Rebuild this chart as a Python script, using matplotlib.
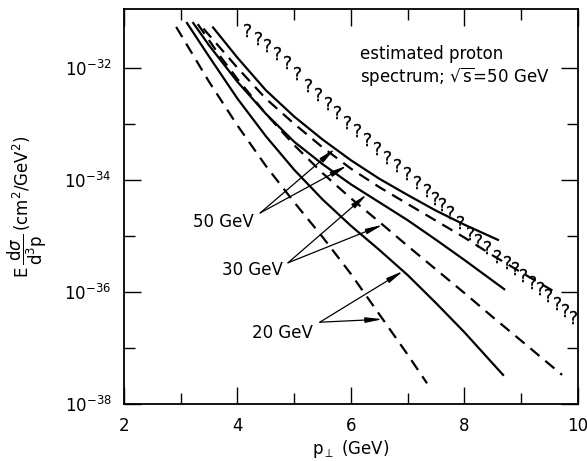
import numpy as np
import matplotlib.pyplot as plt
from matplotlib.ticker import FixedLocator, NullFormatter

plt.rcParams['font.family'] = ['DejaVu Sans']
plt.rcParams['mathtext.fontset'] = 'dejavusans'
plt.rcParams['lines.scale_dashes'] = False

# p_perp (GeV) and log10 of E d3sigma/dp3 (cm^2/GeV^2)
x_20_dash = [2.92, 3.5, 4.0, 4.5, 5.0, 5.5, 6.0, 6.5, 7.0, 7.34]
y_20_dash = [-31.27, -32.25, -33.03, -33.75, -34.4, -35.02, -35.68, -36.4, -37.12, -37.63]
x_20_solid = [3.11, 3.5, 4.0, 4.5, 5.0, 5.5, 6.0, 6.5, 7.0, 7.5, 8.0, 8.68]
y_20_solid = [-31.2, -31.8, -32.55, -33.22, -33.82, -34.35, -34.82, -35.25, -35.7, -36.2, -36.72, -37.48]
x_30_dash = [3.30, 3.7, 4.0, 4.5, 5.0, 5.5, 6.0, 6.5, 7.0, 7.5, 8.0, 8.5, 9.0, 9.72]
y_30_dash = [-31.22, -31.8, -32.2, -32.82, -33.38, -33.88, -34.33, -34.75, -35.18, -35.6, -36.02, -36.45, -36.87, -37.48]
x_30_solid = [3.22, 3.5, 4.0, 4.5, 5.0, 5.5, 6.0, 6.5, 7.0, 7.5, 8.0, 8.70]
y_30_solid = [-31.2, -31.6, -32.25, -32.82, -33.32, -33.72, -34.08, -34.4, -34.72, -35.07, -35.43, -35.95]
x_50_dash = [3.40, 4.0, 4.5, 5.0, 5.5, 6.0, 6.5, 7.0, 7.5, 8.0, 8.5, 9.0, 9.56]
y_50_dash = [-31.3, -32.0, -32.55, -33.0, -33.42, -33.8, -34.13, -34.43, -34.73, -35.03, -35.35, -35.65, -35.98]
x_50_solid = [3.57, 4.0, 4.5, 5.0, 5.5, 6.0, 6.5, 7.0, 7.5, 8.0, 8.59]
y_50_solid = [-31.28, -31.82, -32.4, -32.87, -33.28, -33.65, -33.98, -34.27, -34.55, -34.8, -35.07]

# estimated proton spectrum (the "?" marks)
q_x = [4.17, 4.36, 4.52, 4.70, 4.87, 5.05, 5.24, 5.42, 5.59, 5.75, 5.93, 6.11,
       6.28, 6.46, 6.63, 6.81, 6.99, 7.16, 7.34, 7.48, 7.60, 7.74, 7.92, 8.10,
       8.24, 8.40, 8.57, 8.75, 8.89, 9.03, 9.19, 9.33, 9.47, 9.63, 9.77, 9.91]
q_y = [-31.32, -31.46, -31.59, -31.73, -31.89, -32.1, -32.3, -32.47, -32.63, -32.79, -32.96, -33.11,
       -33.27, -33.43, -33.59, -33.73, -33.88, -34.04, -34.18, -34.32, -34.43, -34.58, -34.76, -34.94,
       -35.07, -35.20, -35.36, -35.47, -35.58, -35.70, -35.82, -35.93, -36.05, -36.19, -36.32, -36.45]

fig = plt.figure(figsize=(5.87, 4.61), dpi=100)
ax = fig.add_axes([0.2112, 0.1236, 0.7734, 0.8569])

dash = (8.5, 5.5)
ax.plot(x_20_dash, 10 ** np.array(y_20_dash), color='k', lw=1.6, dashes=dash)
ax.plot(x_20_solid, 10 ** np.array(y_20_solid), color='k', lw=1.6)
ax.plot(x_30_dash, 10 ** np.array(y_30_dash), color='k', lw=1.6, dashes=dash)
ax.plot(x_30_solid, 10 ** np.array(y_30_solid), color='k', lw=1.6)
ax.plot(x_50_dash, 10 ** np.array(y_50_dash), color='k', lw=1.6, dashes=dash)
ax.plot(x_50_solid, 10 ** np.array(y_50_solid), color='k', lw=1.6)
ax.plot(q_x, 10 ** np.array(q_y), ls='none', marker=r'$\mathrm{?}$', ms=9.5, mew=0.15, color='k')

ax.set_yscale('log')
ax.set_xlim(2, 10)
ax.set_ylim(1e-38, 10 ** -30.95)

# arrows from each energy label to its two curves
def arrow(start, x_tip, xs, ys):
    tip = (x_tip, 10 ** np.interp(x_tip, xs, ys))
    ax.annotate('', xy=tip, xytext=start,
                arrowprops=dict(arrowstyle='-|>,head_length=1.0,head_width=0.16',
                                color='k', lw=0.9, shrinkA=0, shrinkB=0))

ax.text(3.22, 10 ** -34.75, '50 GeV', fontsize=12, va='center', ha='left')
arrow((4.40, 10 ** -34.59), 5.72, x_50_solid, y_50_solid)
arrow((4.40, 10 ** -34.59), 5.93, x_50_dash, y_50_dash)

ax.text(3.73, 10 ** -35.61, '30 GeV', fontsize=12, va='center', ha='left')
arrow((4.89, 10 ** -35.48), 6.28, x_30_solid, y_30_solid)
arrow((4.89, 10 ** -35.48), 6.56, x_30_dash, y_30_dash)

ax.text(4.26, 10 ** -36.73, '20 GeV', fontsize=12, va='center', ha='left')
arrow((5.45, 10 ** -36.54), 6.92, x_20_solid, y_20_solid)
arrow((5.45, 10 ** -36.54), 6.56, x_20_dash, y_20_dash)

ax.text(0.52, 0.885, 'estimated proton', transform=ax.transAxes, fontsize=12, va='center')
ax.text(0.52, 0.83, r'spectrum; $\sqrt{\mathrm{s}}$=50 GeV', transform=ax.transAxes,
        fontsize=12, va='center')

ax.xaxis.set_major_locator(FixedLocator([2, 4, 6, 8, 10]))
ax.xaxis.set_minor_locator(FixedLocator([3, 5, 7, 9]))
ax.yaxis.set_major_locator(FixedLocator([1e-38, 1e-36, 1e-34, 1e-32]))
ax.yaxis.set_minor_locator(FixedLocator([1e-37, 1e-35, 1e-33]))
ax.yaxis.set_minor_formatter(NullFormatter())
ax.set_yticklabels([r'$10^{-38}$', r'$10^{-36}$', r'$10^{-34}$', r'$10^{-32}$'])
ax.tick_params(which='both', direction='in', top=True, right=True, width=1.0,
               labelsize=12, pad=9)
ax.tick_params(which='major', length=12)
ax.tick_params(which='minor', length=8)
for s in ax.spines.values():
    s.set_linewidth(1.3)

ax.set_xlabel(r'$\mathrm{p}_{\perp}$ (GeV)', fontsize=12)
ax.xaxis.set_label_coords(0.5, -0.085)
ax.set_ylabel(r'$\mathrm{E}\,\dfrac{\mathrm{d}\sigma}{\mathrm{d}^{3}\mathrm{p}}\,(\mathrm{cm^{2}/GeV^{2}})$',
              fontsize=12)
ax.yaxis.set_label_coords(-0.165, 0.5)

plt.savefig('out.png', dpi=100)
